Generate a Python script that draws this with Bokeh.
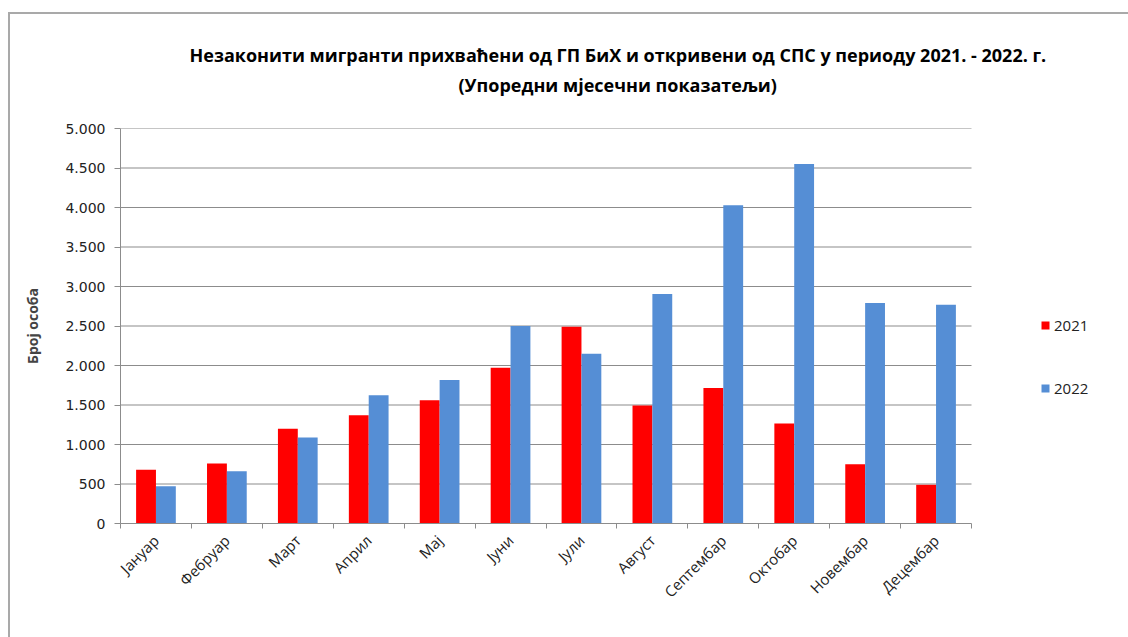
from bokeh.plotting import figure
from bokeh.models import ColumnDataSource, FixedTicker, Range1d, Legend, LegendItem, Title
from bokeh.embed import file_html
from bokeh.resources import INLINE
import math

months = ["Јануар", "Фебруар", "Март", "Април", "Мај", "Јуни", "Јули",
          "Август", "Септембар", "Октобар", "Новембар", "Децембар"]
series_2021 = [680, 760, 1200, 1370, 1560, 1970, 2490, 1495, 1715, 1265, 750, 490]
series_2022 = [470, 660, 1090, 1625, 1815, 2500, 2150, 2905, 4030, 4550, 2790, 2770]
y_ticks = [0, 500, 1000, 1500, 2000, 2500, 3000, 3500, 4000, 4500, 5000]
y_tick_labels = ["0", "500", "1.000", "1.500", "2.000", "2.500", "3.000", "3.500", "4.000", "4.500", "5.000"]
title_line1 = "Незаконити мигранти прихваћени од ГП БиХ и откривени од СПС у периоду 2021. - 2022. г."
title_line2 = "(Упоредни мјесечни показатељи)"
y_title = "Број особа"

n = len(months)
centers = [i + 0.5 for i in range(n)]
bw = 0.28
src = ColumnDataSource(dict(
    x1=[c - bw / 2 for c in centers],
    x2=[c + bw / 2 for c in centers],
    v1=series_2021,
    v2=series_2022,
))
grid_src = ColumnDataSource(dict(
    x0=[0] * (len(y_ticks) - 1), x1=[n] * (len(y_ticks) - 1), y=y_ticks[1:],
))

# frame spans 120..1128 px; the data area (0..n) covers 120..971 px,
# the rest of the frame holds the legend
W, H = 1128, 637
x_end = n * (W - 120) / 851.0
p = figure(width=W, height=H, output_backend="svg", toolbar_location=None,
           x_range=Range1d(0, x_end), y_range=Range1d(0, 5000),
           min_border_left=120, min_border_right=0, min_border_top=128,
           min_border_bottom=H - 523)
p.outline_line_color = None
p.background_fill_color = "white"
p.border_fill_color = None
p.styles = {
    "background": "linear-gradient(#a9a9a9,#a9a9a9) 8px 12px / 2px 640px no-repeat, "
                  "linear-gradient(#a9a9a9,#a9a9a9) 8px 12px / 1130px 2px no-repeat, white"
}
p.xgrid.grid_line_color = None
p.ygrid.grid_line_color = None

p.segment(x0="x0", x1="x1", y0="y", y1="y", source=grid_src,
          line_color="#8c8c8c", line_width=1.2)

r1 = p.vbar(x="x1", top="v1", width=bw, source=src, fill_color="#ff0000", line_color=None)
r2 = p.vbar(x="x2", top="v2", width=bw, source=src, fill_color="#558ed5", line_color=None)

# x axis
p.xaxis.bounds = (0, n)
p.xaxis.ticker = FixedTicker(ticks=centers, minor_ticks=list(range(n + 1)))
p.xaxis.major_label_overrides = {c: m for c, m in zip(centers, months)}
p.xaxis.major_tick_line_color = None
p.xaxis.minor_tick_out = 5
p.xaxis.minor_tick_in = 0
p.xaxis.minor_tick_line_color = "#8c8c8c"
p.xaxis.axis_line_color = "#8c8c8c"
p.xaxis.major_label_orientation = math.pi / 4
p.xaxis.major_label_text_font = "Open Sans"
p.xaxis.major_label_text_font_size = "15px"
p.xaxis.major_label_text_color = "#222222"
p.xaxis.major_label_standoff = 8

# y axis
p.yaxis.bounds = (0, 5000)
p.yaxis.ticker = FixedTicker(ticks=y_ticks)
p.yaxis.major_label_overrides = {t: l for t, l in zip(y_ticks, y_tick_labels)}
p.yaxis.major_tick_out = 6
p.yaxis.major_tick_in = 0
p.yaxis.major_tick_line_color = "#8c8c8c"
p.yaxis.minor_tick_line_color = None
p.yaxis.axis_line_color = "#8c8c8c"
p.yaxis.major_label_text_font = "DejaVu Sans"
p.yaxis.major_label_text_font_size = "14px"
p.yaxis.major_label_text_color = "#222222"
p.yaxis.major_label_standoff = 9
p.yaxis.axis_label = y_title
p.yaxis.axis_label_text_font = "Open Sans"
p.yaxis.axis_label_text_font_style = "bold"
p.yaxis.axis_label_text_font_size = "14px"
p.yaxis.axis_label_standoff = 20

title_style = dict(align="left", vertical_align="top", text_font="Open Sans",
                   text_font_style="bold", text_font_size="18px", text_color="#000000")
# titles stack upward from the plot: spacer, second line, first line
p.add_layout(Title(text=" ", offset=0, standoff=0, **title_style), "above")
p.add_layout(Title(text=title_line2, offset=338, standoff=8, **title_style), "above")
p.add_layout(Title(text=title_line1, offset=69, standoff=0, **title_style), "above")

legend = Legend(items=[LegendItem(label="2021", renderers=[r1]),
                       LegendItem(label="2022", renderers=[r2])],
                location=(920, 125), orientation="vertical",
                glyph_width=10, glyph_height=10, label_standoff=4,
                spacing=43, padding=0, margin=0,
                border_line_color=None, background_fill_alpha=0,
                label_text_font="Open Sans", label_text_font_size="15px",
                label_text_color="#222222")
p.add_layout(legend, "center")

open("out.html", "w").write(file_html(p, INLINE))
